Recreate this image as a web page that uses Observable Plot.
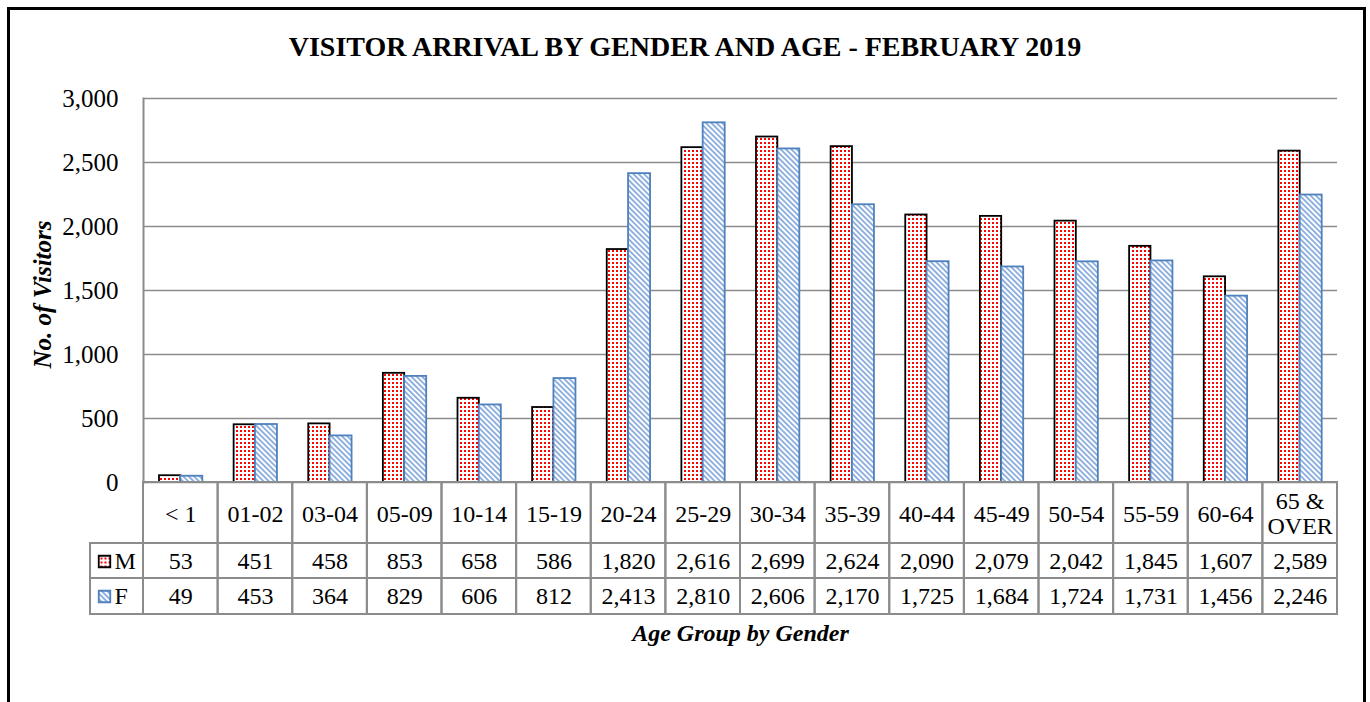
<!DOCTYPE html>
<html>
<head>
<meta charset="utf-8">
<script src="https://cdn.jsdelivr.net/npm/d3@7"></script>
<script src="https://cdn.jsdelivr.net/npm/@observablehq/plot@0.6"></script>
<style>
  html, body { margin: 0; padding: 0; background: #fff; }
  body { width: 1370px; height: 702px; overflow: hidden; position: relative; font-family: "Liberation Serif", "Times New Roman", serif; }
  #border { position: absolute; left: 7px; top: 7px; width: 1359px; height: 760px; border: 3px solid #000; box-sizing: border-box; pointer-events: none; }
  #title { width: 1370px; height: 70px; box-sizing: border-box; padding-top: 33px; text-align: center; font-weight: bold; font-size: 28px; line-height: 28px; color: #000; }
  #chart svg { display: block; }
</style>
</head>
<body>
<div id="border"></div>
<div id="title">VISITOR ARRIVAL BY GENDER AND AGE - FEBRUARY 2019</div>
<div id="chart"></div>
<script>
// ---- data ----
const ageGroups = ["< 1","01-02","03-04","05-09","10-14","15-19","20-24","25-29","30-34","35-39","40-44","45-49","50-54","55-59","60-64","65 & OVER"];
const ageLabels = ["< 1","01-02","03-04","05-09","10-14","15-19","20-24","25-29","30-34","35-39","40-44","45-49","50-54","55-59","60-64","65 &\nOVER"];
const male   = [53,451,458,853,658,586,1820,2616,2699,2624,2090,2079,2042,1845,1607,2589];
const female = [49,453,364,829,606,812,2413,2810,2606,2170,1725,1684,1724,1731,1456,2246];
const seriesNames = ["M","F"];
const yTicks = [0,500,1000,1500,2000,2500,3000];
const yTitle = "No. of Visitors";
const xTitle = "Age Group by Gender";

const rows = ageGroups.map((age, i) => ({age, label: ageLabels[i], M: male[i], F: female[i]}));
const fmt = d3.format(",");
const gridColor = "#8c8c8c";
const blue = "#4f81bd";
const cellBase = {x: "age", y1: () => 0, y2: () => 0, fill: "none", stroke: gridColor, strokeWidth: 2};
const textStyle = {fontSize: 24, fill: "#000", lineAnchor: "middle"};

const chart = Plot.plot({
  width: 1370,
  height: 632,
  marginTop: 28,
  marginBottom: 220,
  marginLeft: 143,
  marginRight: 33,
  style: {fontFamily: "'Liberation Serif', 'Times New Roman', serif", fontSize: "24px", background: "transparent", color: "#000"},
  x: {domain: ageGroups, padding: 0, round: false, axis: null, label: null},
  y: {domain: [0, 3000], label: null},
  marks: [
    Plot.ruleY(yTicks, {stroke: gridColor, strokeWidth: 1.5}),
    Plot.frame({anchor: "left", stroke: gridColor, strokeWidth: 2}),
    Plot.axisY({ticks: yTicks, tickFormat: fmt, tickSize: 0, tickPadding: 25, fontSize: 25, label: null}),
    // bars
    Plot.barY(rows, {x: "age", y: "M", fill: "url(#dotsM)", stroke: "#000", strokeWidth: 1.8, insetLeft: 16, insetRight: 37.3}),
    Plot.barY(rows, {x: "age", y: "F", fill: "url(#hatchF)", stroke: blue, strokeWidth: 1.8, insetLeft: 37.3, insetRight: 15.3}),
    // data table cells
    Plot.barY(rows, {...cellBase, insetTop: 0, insetBottom: -61}),
    Plot.barY(rows, {...cellBase, insetTop: 61, insetBottom: -96}),
    Plot.barY(rows, {...cellBase, insetTop: 96, insetBottom: -132}),
    Plot.barY([ageGroups[0]], {x: d => d, y1: () => 0, y2: () => 0, fill: "none", stroke: gridColor, strokeWidth: 2, insetLeft: -53, insetRight: 74.625, insetTop: 61, insetBottom: -96}),
    Plot.barY([ageGroups[0]], {x: d => d, y1: () => 0, y2: () => 0, fill: "none", stroke: gridColor, strokeWidth: 2, insetLeft: -53, insetRight: 74.625, insetTop: 96, insetBottom: -132}),
    // table text
    Plot.text(rows, {x: "age", text: "label", frameAnchor: "bottom", dy: 31, lineHeight: 1.05, ...textStyle}),
    Plot.text(rows, {x: "age", text: d => fmt(d.M), frameAnchor: "bottom", dy: 79, ...textStyle}),
    Plot.text(rows, {x: "age", text: d => fmt(d.F), frameAnchor: "bottom", dy: 114, ...textStyle}),
    // legend keys in table
    Plot.dot([seriesNames[0]], {frameAnchor: "bottom-left", dx: -39, dy: 79, symbol: "square", r: 6.5, fill: "url(#dotsM)", stroke: "#000", strokeWidth: 1.8}),
    Plot.dot([seriesNames[1]], {frameAnchor: "bottom-left", dx: -39, dy: 114, symbol: "square", r: 6.5, fill: "url(#hatchF)", stroke: blue, strokeWidth: 1.8}),
    Plot.text([seriesNames[0]], {text: d => d, frameAnchor: "bottom-left", dx: -29, dy: 79, textAnchor: "start", ...textStyle}),
    Plot.text([seriesNames[1]], {text: d => d, frameAnchor: "bottom-left", dx: -29, dy: 114, textAnchor: "start", ...textStyle}),
    // axis titles
    Plot.text([yTitle], {text: d => d, frameAnchor: "left", dx: -101, dy: 4, rotate: -90, textAnchor: "middle", lineAnchor: "middle", fontSize: 25, fontWeight: "bold", fontStyle: "italic", fill: "#000"}),
    Plot.text([xTitle], {text: d => d, frameAnchor: "bottom", dy: 151, lineAnchor: "middle", fontSize: 24, fontWeight: "bold", fontStyle: "italic", fill: "#000"})
  ]
});

d3.select(chart).insert("defs", ":first-child").html(`
  <pattern id="dotsM" patternUnits="userSpaceOnUse" width="4" height="4">
    <rect width="4" height="4" fill="#fff"></rect>
    <rect x="0" y="0" width="2" height="2" fill="#ff0000"></rect>
  </pattern>
  <pattern id="hatchF" patternUnits="userSpaceOnUse" width="8" height="3.8" patternTransform="rotate(45)">
    <rect width="8" height="3.8" fill="#fff"></rect>
    <line x1="0" y1="1.9" x2="8" y2="1.9" stroke="#5a8ccf" stroke-width="1.3"></line>
  </pattern>
`);

document.getElementById("chart").appendChild(chart);
</script>
</body>
</html>
